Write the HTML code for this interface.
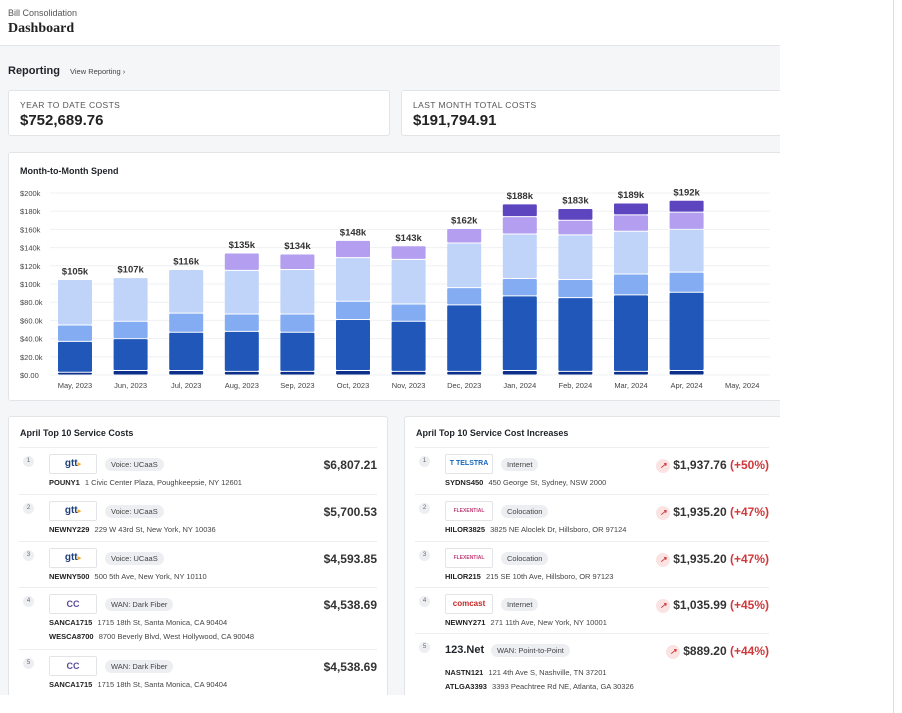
<!DOCTYPE html>
<html><head><meta charset="utf-8"><style>
*{box-sizing:border-box;margin:0;padding:0}
body{width:902px;height:713px;overflow:hidden;background:#fff;font-family:"Liberation Sans",sans-serif;color:#1f2328;position:relative}
.abs{position:absolute}
.main{position:absolute;left:0;top:45px;width:780px;height:650px;background:#f5f6f8;border-top:1px solid #e3e5e8;overflow:hidden}
.card{position:absolute;background:#fff;border:1px solid #e2e4e8;border-radius:3px}
.lbl{font-size:8.5px;letter-spacing:.4px;color:#555}
.big{font-size:15px;font-weight:bold;color:#222}
.row{position:absolute;left:10px;right:10px;border-top:1px solid #eceef1}
.num{position:absolute;left:4px;top:8px;width:11px;height:11px;border-radius:50%;background:#eceef1;font-size:6px;color:#666;text-align:center;line-height:11px}
.logo{position:absolute;left:30px;top:6px;width:48px;height:20px;border:1px solid #e2e4e8;border-radius:2px;font-size:10px;text-align:center;line-height:18px;font-weight:bold}
.tag{position:absolute;left:86px;top:10px;height:13px;padding:0 6px;border-radius:7px;background:#eceef1;font-size:7.5px;line-height:13px;color:#444}
.addr{position:absolute;left:30px;font-size:7.5px;color:#444;white-space:nowrap}
.addr b{color:#222;margin-right:3px}
.price{position:absolute;right:0;top:10px;font-size:12px;font-weight:bold;color:#333}
.price span{color:#d0393b}
.ic{display:inline-block;width:14px;height:14px;border-radius:50%;background:#fbe3e3;color:#d0393b;font-size:8px;text-align:center;line-height:14px;margin-right:3px;vertical-align:1px}
</style></head><body>
<div class="abs" style="left:8px;top:8px;font-size:9px;color:#555">Bill Consolidation</div>
<div class="abs" style="left:8px;top:21px;font-size:14px;font-weight:bold;font-family:'Liberation Serif',serif;color:#222">Dashboard</div>
<div class="abs" style="left:893px;top:0;width:1px;height:713px;background:#ddd"></div>
<div class="main">
  <div class="abs" style="left:8px;top:19px;font-size:11px;font-weight:bold">Reporting</div>
  <div class="abs" style="left:70px;top:21px;font-size:7.5px;color:#444">View Reporting ›</div>
  <div class="card" style="left:8px;top:44px;width:382px;height:46px">
    <div class="abs lbl" style="left:11px;top:9px">YEAR TO DATE COSTS</div>
    <div class="abs big" style="left:11px;top:21px">$752,689.76</div></div>
  <div class="card" style="left:401px;top:44px;width:385px;height:46px">
    <div class="abs lbl" style="left:11px;top:9px">LAST MONTH TOTAL COSTS</div>
    <div class="abs big" style="left:11px;top:21px">$191,794.91</div></div>
  <div class="card" style="left:8px;top:106px;width:780px;height:249px">
    <div class="abs" style="left:11px;top:13px;font-size:9px;font-weight:bold">Month-to-Month Spend</div>
  </div>
  <svg id="chart" class="abs" style="left:0;top:105px" width="780" height="250"></svg>

  <div class="card" style="left:8px;top:370px;width:380px;height:290px">
    <div class="abs" style="left:11px;top:11px;font-size:9px;font-weight:bold">April Top 10 Service Costs</div>
    <div class="row" style="top:30px;height:47px"><div class="num">1</div><div class="logo" style="color:#1c3f7a">gtt<span style="color:#f5a623;font-size:7px">▸</span></div><div class="tag">Voice: UCaaS</div><div class="price">$6,807.21</div><div class="addr" style="top:30px"><b>POUNY1</b> 1 Civic Center Plaza, Poughkeepsie, NY 12601</div></div>
    <div class="row" style="top:77px;height:47px"><div class="num">2</div><div class="logo" style="color:#1c3f7a">gtt<span style="color:#f5a623;font-size:7px">▸</span></div><div class="tag">Voice: UCaaS</div><div class="price">$5,700.53</div><div class="addr" style="top:30px"><b>NEWNY229</b> 229 W 43rd St, New York, NY 10036</div></div>
    <div class="row" style="top:124px;height:46px"><div class="num">3</div><div class="logo" style="color:#1c3f7a">gtt<span style="color:#f5a623;font-size:7px">▸</span></div><div class="tag">Voice: UCaaS</div><div class="price">$4,593.85</div><div class="addr" style="top:30px"><b>NEWNY500</b> 500 5th Ave, New York, NY 10110</div></div>
    <div class="row" style="top:170px;height:62px"><div class="num">4</div><div class="logo" style="color:#5a4a9a;font-size:9px">CC</div><div class="tag">WAN: Dark Fiber</div><div class="price">$4,538.69</div><div class="addr" style="top:30px"><b>SANCA1715</b> 1715 18th St, Santa Monica, CA 90404</div><div class="addr" style="top:44px"><b>WESCA8700</b> 8700 Beverly Blvd, West Hollywood, CA 90048</div></div>
    <div class="row" style="top:232px;height:58px;overflow:hidden"><div class="num">5</div><div class="logo" style="color:#5a4a9a;font-size:9px">CC</div><div class="tag">WAN: Dark Fiber</div><div class="price">$4,538.69</div><div class="addr" style="top:30px"><b>SANCA1715</b> 1715 18th St, Santa Monica, CA 90404</div><div class="addr" style="top:44px"><b>CARCA417</b> 417 Carlsbad Village Dr, Carlsbad, CA 92008</div></div>
  </div>
  <div class="card" style="left:404px;top:370px;width:380px;height:290px">
    <div class="abs" style="left:11px;top:11px;font-size:9px;font-weight:bold">April Top 10 Service Cost Increases</div>
    <div class="row" style="top:30px;height:47px;right:14px"><div class="num">1</div><div class="logo" style="color:#1565c0;font-size:7px">T TELSTRA</div><div class="tag">Internet</div><div class="price"><i class="ic">↗</i>$1,937.76 <span>(+50%)</span></div><div class="addr" style="top:30px"><b>SYDNS450</b> 450 George St, Sydney, NSW 2000</div></div>
    <div class="row" style="top:77px;height:47px;right:14px"><div class="num">2</div><div class="logo" style="color:#c0407a;font-size:5px">FLEXENTIAL</div><div class="tag">Colocation</div><div class="price"><i class="ic">↗</i>$1,935.20 <span>(+47%)</span></div><div class="addr" style="top:30px"><b>HILOR3825</b> 3825 NE Aloclek Dr, Hillsboro, OR 97124</div></div>
    <div class="row" style="top:124px;height:46px;right:14px"><div class="num">3</div><div class="logo" style="color:#c0407a;font-size:5px">FLEXENTIAL</div><div class="tag">Colocation</div><div class="price"><i class="ic">↗</i>$1,935.20 <span>(+47%)</span></div><div class="addr" style="top:30px"><b>HILOR215</b> 215 SE 10th Ave, Hillsboro, OR 97123</div></div>
    <div class="row" style="top:170px;height:46px;right:14px"><div class="num">4</div><div class="logo" style="color:#c62828;font-size:8px">comcast</div><div class="tag">Internet</div><div class="price"><i class="ic">↗</i>$1,035.99 <span>(+45%)</span></div><div class="addr" style="top:30px"><b>NEWNY271</b> 271 11th Ave, New York, NY 10001</div></div>
    <div class="row" style="top:216px;height:74px;right:14px"><div class="num">5</div><div class="abs" style="left:30px;top:10px;font-size:11px;font-weight:bold">123.Net</div><div class="tag" style="left:76px">WAN: Point-to-Point</div><div class="price"><i class="ic">↗</i>$889.20 <span>(+44%)</span></div><div class="addr" style="top:34px"><b>NASTN121</b> 121 4th Ave S, Nashville, TN 37201</div><div class="addr" style="top:48px"><b>ATLGA3393</b> 3393 Peachtree Rd NE, Atlanta, GA 30326</div></div>
  </div>
</div>
<script>
const months=["May, 2023","Jun, 2023","Jul, 2023","Aug, 2023","Sep, 2023","Oct, 2023","Nov, 2023","Dec, 2023","Jan, 2024","Feb, 2024","Mar, 2024","Apr, 2024","May, 2024"];
const s1=[3,5,5,4,4,5,4,4,5,4,4,5];
const s2=[34,35,42,44,43,56,55,73,82,81,84,86];
const s3=[18,19,21,19,20,20,19,19,19,20,23,22];
const s4=[50,48,48,48,49,48,49,49,49,49,47,47];
const s5=[0,0,0,19,17,19,15,16,19,16,18,19];
const s6=[0,0,0,0,0,0,0,0,14,13,13,13];
const totals=["$105k","$107k","$116k","$135k","$134k","$148k","$143k","$162k","$188k","$183k","$189k","$192k"];
const ticks=[0,20,40,60,80,100,120,140,160,180,200];
const tickLabels=["$0.00","$20.0k","$40.0k","$60.0k","$80.0k","$100k","$120k","$140k","$160k","$180k","$200k"];
const series=[s1,s2,s3,s4,s5,s6];
const colors=["#0b2f8a","#2057b9","#83acf2","#bfd4f8","#b39ef0","#5e45c0"];
const svg=document.getElementById('chart');const NS="http://www.w3.org/2000/svg";
const y=v=>224-v*0.91, x=i=>75+i*55.6;
function mk(t,a,txt){const e=document.createElementNS(NS,t);for(const k in a)e.setAttribute(k,a[k]);if(txt!=null)e.textContent=txt;svg.appendChild(e);return e;}
ticks.forEach((t,i)=>{
 const g=mk('line',{x1:50,x2:770,y1:y(t),y2:y(t),stroke:'#eef0f3'});
 
 
 const l=mk('text',{x:20,y:y(t)+3,'font-size':7.5,fill:'#444'},tickLabels[i]);
 
 
});
months.forEach((m,i)=>{
 const l=mk('text',{x:x(i),y:237,'font-size':7.5,fill:'#444','text-anchor':'middle'},m);
 
 
});
s1.forEach((_,i)=>{
 let cum=0;
 series.forEach((s,k)=>{
  if(s[i]>0){
   const r=mk('rect',{x:x(i)-17,y:y(cum+s[i])+0.5,width:34,height:Math.max(0,s[i]*0.91-1),fill:colors[k],rx:1});
   
   
  }
  cum+=s[i];
 });
 const t=mk('text',{x:x(i),y:y(cum)-5,'font-size':9.5,'font-weight':'bold',fill:'#333','text-anchor':'middle'},totals[i]);
 
 
});
</script>
</body></html>
